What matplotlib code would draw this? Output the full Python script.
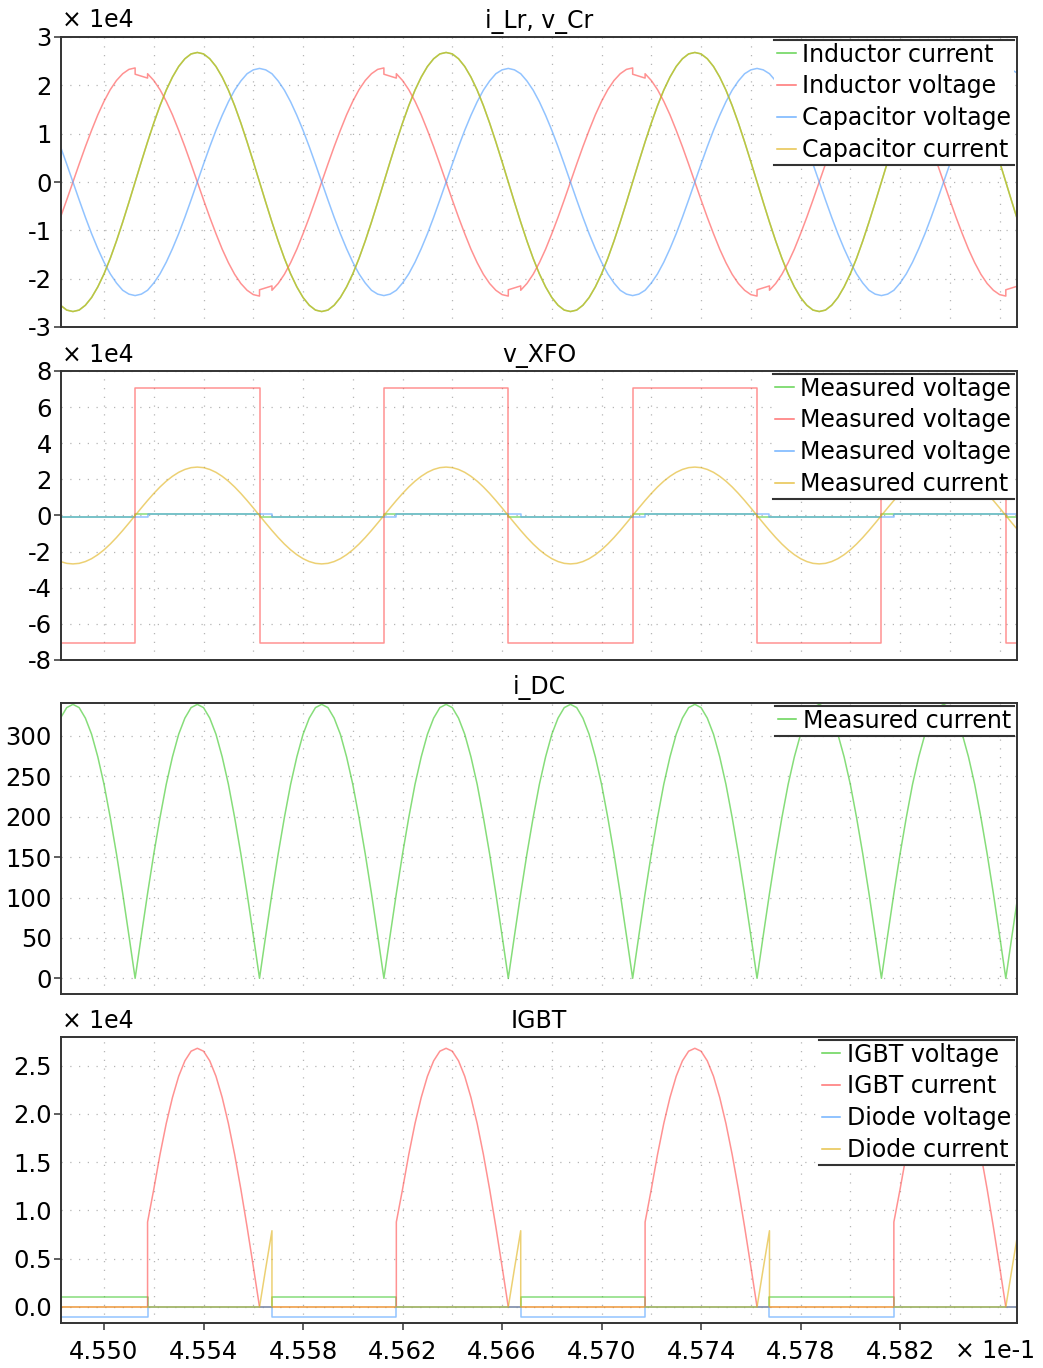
import numpy as np
import matplotlib
matplotlib.use("Agg")
import matplotlib.pyplot as plt
from matplotlib.lines import Line2D
from matplotlib.ticker import FixedLocator

plt.rcParams['font.family'] = ['DejaVu Sans']

# ---------------- data (time axis in units of 1e-1 s) ----------------
T_START = 4.54825
T_STEP = 0.00025
N = 156
t = np.round(T_START + T_STEP * np.arange(N), 6)

# panel 1 : i_Lr, v_Cr  (x 1e4)
ind_current = [
    -2.55, -2.65, -2.68, -2.65, -2.55, -2.39, -2.17, -1.90, -1.58, -1.22, -0.83, -0.42,
    0.00, 0.42, 0.83, 1.22, 1.58, 1.90, 2.17, 2.39, 2.55, 2.65, 2.68, 2.65, 2.55, 2.39, 2.17, 1.90, 1.58, 1.22, 0.83, 0.42,
    0.00, -0.42, -0.83, -1.22, -1.58, -1.90, -2.17, -2.39, -2.55, -2.65, -2.68, -2.65, -2.55, -2.39, -2.17, -1.90, -1.58, -1.22, -0.83, -0.42,
    0.00, 0.42, 0.83, 1.22, 1.58, 1.90, 2.17, 2.39, 2.55, 2.65, 2.68, 2.65, 2.55, 2.39, 2.17, 1.90, 1.58, 1.22, 0.83, 0.42,
    0.00, -0.42, -0.83, -1.22, -1.58, -1.90, -2.17, -2.39, -2.55, -2.65, -2.68, -2.65, -2.55, -2.39, -2.17, -1.90, -1.58, -1.22, -0.83, -0.42,
    0.00, 0.42, 0.83, 1.22, 1.58, 1.90, 2.17, 2.39, 2.55, 2.65, 2.68, 2.65, 2.55, 2.39, 2.17, 1.90, 1.58, 1.22, 0.83, 0.42,
    0.00, -0.42, -0.83, -1.22, -1.58, -1.90, -2.17, -2.39, -2.55, -2.65, -2.68, -2.65, -2.55, -2.39, -2.17, -1.90, -1.58, -1.22, -0.83, -0.42,
    0.00, 0.42, 0.83, 1.22, 1.58, 1.90, 2.17, 2.39, 2.55, 2.65, 2.68, 2.65, 2.55, 2.39, 2.17, 1.90, 1.58, 1.22, 0.83, 0.42,
    0.00, -0.42, -0.83, -1.22,
]
cap_current = ind_current  # identical trace (series resonant branch)

ind_voltage = [
    -0.73, -0.37, 0.00, 0.37, 0.73, 1.07, 1.39, 1.67, 1.91, 2.10, 2.24, 2.33,
    2.23, 2.19, 2.24, 2.10, 1.91, 1.67, 1.39, 1.07, 0.73, 0.37, 0.00, -0.37, -0.73, -1.07, -1.39, -1.67, -1.91, -2.10, -2.24, -2.33,
    -2.23, -2.19, -2.24, -2.10, -1.91, -1.67, -1.39, -1.07, -0.73, -0.37, 0.00, 0.37, 0.73, 1.07, 1.39, 1.67, 1.91, 2.10, 2.24, 2.33,
    2.23, 2.19, 2.24, 2.10, 1.91, 1.67, 1.39, 1.07, 0.73, 0.37, 0.00, -0.37, -0.73, -1.07, -1.39, -1.67, -1.91, -2.10, -2.24, -2.33,
    -2.23, -2.19, -2.24, -2.10, -1.91, -1.67, -1.39, -1.07, -0.73, -0.37, 0.00, 0.37, 0.73, 1.07, 1.39, 1.67, 1.91, 2.10, 2.24, 2.33,
    2.23, 2.19, 2.24, 2.10, 1.91, 1.67, 1.39, 1.07, 0.73, 0.37, 0.00, -0.37, -0.73, -1.07, -1.39, -1.67, -1.91, -2.10, -2.24, -2.33,
    -2.23, -2.19, -2.24, -2.10, -1.91, -1.67, -1.39, -1.07, -0.73, -0.37, 0.00, 0.37, 0.73, 1.07, 1.39, 1.67, 1.91, 2.10, 2.24, 2.33,
    2.23, 2.19, 2.24, 2.10, 1.91, 1.67, 1.39, 1.07, 0.73, 0.37, 0.00, -0.37, -0.73, -1.07, -1.39, -1.67, -1.91, -2.10, -2.24, -2.33,
    -2.23, -2.19, -2.24, -2.10,
]
# notch jumps of the inductor voltage: sample index and value just before the jump
ind_voltage_jump_idx = [12, 14, 32, 34, 52, 54, 72, 74, 92, 94, 112, 114, 132, 134, 152, 154]
ind_voltage_jump_before = [2.36, 2.15, -2.36, -2.15, 2.36, 2.15, -2.36, -2.15,
                           2.36, 2.15, -2.36, -2.15, 2.36, 2.15, -2.36, -2.15]

cap_voltage = [
    0.73, 0.37, 0.00, -0.37, -0.73, -1.07, -1.38, -1.66, -1.90, -2.09, -2.24, -2.32,
    -2.35, -2.32, -2.24, -2.09, -1.90, -1.66, -1.38, -1.07, -0.73, -0.37, 0.00, 0.37, 0.73, 1.07, 1.38, 1.66, 1.90, 2.09, 2.24, 2.32,
    2.35, 2.32, 2.24, 2.09, 1.90, 1.66, 1.38, 1.07, 0.73, 0.37, 0.00, -0.37, -0.73, -1.07, -1.38, -1.66, -1.90, -2.09, -2.24, -2.32,
    -2.35, -2.32, -2.24, -2.09, -1.90, -1.66, -1.38, -1.07, -0.73, -0.37, 0.00, 0.37, 0.73, 1.07, 1.38, 1.66, 1.90, 2.09, 2.24, 2.32,
    2.35, 2.32, 2.24, 2.09, 1.90, 1.66, 1.38, 1.07, 0.73, 0.37, 0.00, -0.37, -0.73, -1.07, -1.38, -1.66, -1.90, -2.09, -2.24, -2.32,
    -2.35, -2.32, -2.24, -2.09, -1.90, -1.66, -1.38, -1.07, -0.73, -0.37, 0.00, 0.37, 0.73, 1.07, 1.38, 1.66, 1.90, 2.09, 2.24, 2.32,
    2.35, 2.32, 2.24, 2.09, 1.90, 1.66, 1.38, 1.07, 0.73, 0.37, 0.00, -0.37, -0.73, -1.07, -1.38, -1.66, -1.90, -2.09, -2.24, -2.32,
    -2.35, -2.32, -2.24, -2.09, -1.90, -1.66, -1.38, -1.07, -0.73, -0.37, 0.00, 0.37, 0.73, 1.07, 1.38, 1.66, 1.90, 2.09, 2.24, 2.32,
    2.35, 2.32, 2.24, 2.09,
]

# panel 2 : v_XFO (x 1e4), step traces: switching instants and levels
xfo_edges = [4.54825, 4.55125, 4.55625, 4.56125, 4.56625, 4.57125, 4.57625, 4.58125, 4.58625, 4.58700]
xfo_edges_delayed = [4.54825, 4.55175, 4.55675, 4.56175, 4.56675, 4.57175, 4.57675, 4.58175, 4.58675, 4.58700]
xfo_voltage_a = [-0.10, 0.10, -0.10, 0.10, -0.10, 0.10, -0.10, 0.10, -0.10, -0.10]
xfo_voltage_b = [-7.05, 7.05, -7.05, 7.05, -7.05, 7.05, -7.05, 7.05, -7.05, -7.05]
xfo_voltage_c = [-0.10, 0.10, -0.10, 0.10, -0.10, 0.10, -0.10, 0.10, -0.10, -0.10]
xfo_current = ind_current

# panel 3 : i_DC
i_dc = [
    322, 335, 339, 335, 322, 302, 274, 240, 199, 154, 105, 53,
    0, 53, 105, 154, 199, 240, 274, 302, 322, 335, 339, 335, 322, 302, 274, 240, 199, 154, 105, 53,
    0, 53, 105, 154, 199, 240, 274, 302, 322, 335, 339, 335, 322, 302, 274, 240, 199, 154, 105, 53,
    0, 53, 105, 154, 199, 240, 274, 302, 322, 335, 339, 335, 322, 302, 274, 240, 199, 154, 105, 53,
    0, 53, 105, 154, 199, 240, 274, 302, 322, 335, 339, 335, 322, 302, 274, 240, 199, 154, 105, 53,
    0, 53, 105, 154, 199, 240, 274, 302, 322, 335, 339, 335, 322, 302, 274, 240, 199, 154, 105, 53,
    0, 53, 105, 154, 199, 240, 274, 302, 322, 335, 339, 335, 322, 302, 274, 240, 199, 154, 105, 53,
    0, 53, 105, 154, 199, 240, 274, 302, 322, 335, 339, 335, 322, 302, 274, 240, 199, 154, 105, 53,
    0, 53, 105, 154,
]

# panel 4 : IGBT (x 1e4)
igbt_voltage = [0.10, 0.00, 0.10, 0.00, 0.10, 0.00, 0.10, 0.00, 0.10, 0.10]
diode_voltage = [-0.10, 0.00, -0.10, 0.00, -0.10, 0.00, -0.10, 0.00, -0.10, -0.10]
igbt_current = [
    0, 0, 0, 0, 0, 0, 0, 0, 0, 0, 0, 0,
    0, 0, 0.88, 1.22, 1.58, 1.90, 2.17, 2.39, 2.55, 2.65, 2.68, 2.65, 2.55, 2.39, 2.17, 1.90, 1.58, 1.22, 0.83, 0.42,
    0, 0, 0, 0, 0, 0, 0, 0, 0, 0, 0, 0, 0, 0, 0, 0, 0, 0, 0, 0,
    0, 0, 0.88, 1.22, 1.58, 1.90, 2.17, 2.39, 2.55, 2.65, 2.68, 2.65, 2.55, 2.39, 2.17, 1.90, 1.58, 1.22, 0.83, 0.42,
    0, 0, 0, 0, 0, 0, 0, 0, 0, 0, 0, 0, 0, 0, 0, 0, 0, 0, 0, 0,
    0, 0, 0.88, 1.22, 1.58, 1.90, 2.17, 2.39, 2.55, 2.65, 2.68, 2.65, 2.55, 2.39, 2.17, 1.90, 1.58, 1.22, 0.83, 0.42,
    0, 0, 0, 0, 0, 0, 0, 0, 0, 0, 0, 0, 0, 0, 0, 0, 0, 0, 0, 0,
    0, 0, 0.88, 1.22, 1.58, 1.90, 2.17, 2.39, 2.55, 2.65, 2.68, 2.65, 2.55, 2.39, 2.17, 1.90, 1.58, 1.22, 0.83, 0.42,
    0, 0, 0, 0,
]
igbt_current_jump_idx = [14, 54, 94, 134]
igbt_current_jump_before = [0, 0, 0, 0]
diode_current = [
    0, 0, 0, 0, 0, 0, 0, 0, 0, 0, 0, 0,
    0, 0, 0, 0, 0, 0, 0, 0, 0, 0, 0, 0, 0, 0, 0, 0, 0, 0, 0, 0,
    0, 0.40, 0, 0, 0, 0, 0, 0, 0, 0, 0, 0, 0, 0, 0, 0, 0, 0, 0, 0,
    0, 0, 0, 0, 0, 0, 0, 0, 0, 0, 0, 0, 0, 0, 0, 0, 0, 0, 0, 0,
    0, 0.40, 0, 0, 0, 0, 0, 0, 0, 0, 0, 0, 0, 0, 0, 0, 0, 0, 0, 0,
    0, 0, 0, 0, 0, 0, 0, 0, 0, 0, 0, 0, 0, 0, 0, 0, 0, 0, 0, 0,
    0, 0.40, 0, 0, 0, 0, 0, 0, 0, 0, 0, 0, 0, 0, 0, 0, 0, 0, 0, 0,
    0, 0, 0, 0, 0, 0, 0, 0, 0, 0, 0, 0, 0, 0, 0, 0, 0, 0, 0, 0,
    0, 0.40, 0, 0,
]
diode_current_jump_idx = [34, 74, 114, 154]
diode_current_jump_before = [0.79, 0.79, 0.79, 0.79]

x_ticks = [4.550, 4.554, 4.558, 4.562, 4.566, 4.570, 4.574, 4.578, 4.582]
x_minor = [4.550, 4.552, 4.554, 4.556, 4.558, 4.560, 4.562, 4.564, 4.566,
           4.568, 4.570, 4.572, 4.574, 4.576, 4.578, 4.580, 4.582, 4.584, 4.586]


def with_jumps(tt, vv, idx, before):
    jumps = dict(zip(idx, before))
    ts, vs = [], []
    for k, (tk, vk) in enumerate(zip(tt, vv)):
        if k in jumps:
            ts.append(tk)
            vs.append(jumps[k])
        ts.append(tk)
        vs.append(vk)
    return ts, vs


# ---------------- styling ----------------
GREEN = '#3cc828'
RED = '#ff4f4f'
BLUE = '#4f9fff'
YEL = '#e1b41e'
ALPHA = 0.62
LW = 1.1
FS = 17.5      # tick labels
FSL = 17       # legend / titles
DARK = '#333333'

W, H = 1043, 1368
fig = plt.figure(figsize=(W / 100, H / 100), dpi=100)


def add_axes(top_px, bottom_px):
    return fig.add_axes([61 / W, 1 - bottom_px / H, (1017 - 61) / W, (bottom_px - top_px) / H])


def setup(ax, ylim, yticks, fmt, marks, title, bottom=False):
    ax.set_xlim(4.54827, 4.58670)
    ax.set_ylim(*ylim)
    ax.set_yticks(yticks)
    ax.set_yticklabels([fmt(v) for v in yticks])
    ax.yaxis.remove_overlapping_locs = False
    ax.yaxis.set_minor_locator(FixedLocator(marks))
    ax.tick_params(axis='y', which='major', length=0, pad=6.5, labelsize=FS)
    ax.tick_params(axis='y', which='minor', length=5, width=1.1, color=DARK, direction='out')
    ax.set_xticks(x_ticks)
    ax.xaxis.remove_overlapping_locs = False
    ax.set_xticks(x_minor, minor=True)
    ax.tick_params(axis='x', which='minor', length=0)
    if bottom:
        ax.set_xticklabels([f"{v:.3f}" for v in x_ticks])
        ax.tick_params(axis='x', which='major', length=5, width=1.1, color=DARK,
                       direction='out', labelsize=FS, pad=7)
    else:
        ax.set_xticklabels([])
        ax.tick_params(axis='x', which='major', length=0)
    ax.grid(True, axis='x', which='minor', color='#b5b5b5', lw=0.9, ls=(0, (1, 6)))
    ax.grid(True, axis='y', which='major', color='#b5b5b5', lw=0.9, ls=(0, (1, 6)))
    for s in ax.spines.values():
        s.set_color(DARK)
        s.set_linewidth(1.4)
    ax.set_title(title, fontsize=FSL, pad=6.5)


def legend(ax, colors, labels):
    hs = [Line2D([], [], color=c, lw=LW, alpha=0.8) for c in colors]
    leg = ax.legend(hs, labels, loc='upper right', bbox_to_anchor=(1, 1),
                    borderaxespad=0.12, fontsize=FSL, handlelength=0.78,
                    handletextpad=0.28, labelspacing=0.33, borderpad=0.12,
                    frameon=True, fancybox=False, framealpha=1.0,
                    facecolor='white', edgecolor='none')
    leg.set_zorder(10)
    return leg


legends = []

# panel 1
ax1 = add_axes(37, 327)
ax1.plot(t, ind_current, color=GREEN, lw=LW, alpha=ALPHA)
tv, vv = with_jumps(t, ind_voltage, ind_voltage_jump_idx, ind_voltage_jump_before)
ax1.plot(tv, vv, color=RED, lw=LW, alpha=ALPHA)
ax1.plot(t, cap_voltage, color=BLUE, lw=LW, alpha=ALPHA)
ax1.plot(t, cap_current, color=YEL, lw=LW, alpha=ALPHA)
setup(ax1, (-3, 3), [-3, -2, -1, 0, 1, 2, 3], lambda v: f"{v:d}", [-3, 0, 3], "i_Lr, v_Cr")
legends.append(legend(ax1, [GREEN, RED, BLUE, YEL],
                      ["Inductor current", "Inductor voltage", "Capacitor voltage", "Capacitor current"]))

# panel 2
ax2 = add_axes(371, 660)
ax2.plot(xfo_edges, xfo_voltage_a, drawstyle='steps-post', color=GREEN, lw=LW, alpha=ALPHA)
ax2.plot(xfo_edges, xfo_voltage_b, drawstyle='steps-post', color=RED, lw=LW, alpha=ALPHA)
ax2.plot(xfo_edges_delayed, xfo_voltage_c, drawstyle='steps-post', color=BLUE, lw=LW, alpha=ALPHA)
ax2.plot(t, xfo_current, color=YEL, lw=LW, alpha=ALPHA)
setup(ax2, (-8, 8), [-8, -6, -4, -2, 0, 2, 4, 6, 8], lambda v: f"{v:d}", [-8, 0, 8], "v_XFO")
legends.append(legend(ax2, [GREEN, RED, BLUE, YEL],
                      ["Measured voltage", "Measured voltage", "Measured voltage", "Measured current"]))

# panel 3
ax3 = add_axes(703, 994)
ax3.plot(t, i_dc, color=GREEN, lw=LW, alpha=ALPHA)
setup(ax3, (-19.4, 340.7), [0, 50, 100, 150, 200, 250, 300], lambda v: f"{v:d}", [0, 150], "i_DC")
legends.append(legend(ax3, [GREEN], ["Measured current"]))

# panel 4
ax4 = add_axes(1037, 1323)
ax4.plot(xfo_edges_delayed, igbt_voltage, drawstyle='steps-post', color=GREEN, lw=LW, alpha=ALPHA)
ti, vi = with_jumps(t, igbt_current, igbt_current_jump_idx, igbt_current_jump_before)
ax4.plot(ti, vi, color=RED, lw=LW, alpha=ALPHA)
ax4.plot(xfo_edges_delayed, diode_voltage, drawstyle='steps-post', color=BLUE, lw=LW, alpha=ALPHA)
td, vd = with_jumps(t, diode_current, diode_current_jump_idx, diode_current_jump_before)
ax4.plot(td, vd, color=YEL, lw=LW, alpha=ALPHA)
setup(ax4, (-0.166, 2.797), [0.0, 0.5, 1.0, 1.5, 2.0, 2.5], lambda v: f"{v:.1f}", [0.5, 2.0], "IGBT",
      bottom=True)
legends.append(legend(ax4, [GREEN, RED, BLUE, YEL],
                      ["IGBT voltage", "IGBT current", "Diode voltage", "Diode current"]))

# scale annotations
for ypx in (20, 355, 1021):
    fig.text(62 / W, 1 - ypx / H, "\u00d7 1e4", fontsize=FSL, ha='left', va='center')
fig.text(955 / W, 1 - 1351 / H, "\u00d7 1e-1", fontsize=FSL, ha='left', va='center')

# legend top / bottom rules
fig.canvas.draw()
inv = fig.transFigure.inverted()
for leg in legends:
    bb = leg.get_window_extent().transformed(inv)
    for yy in (bb.y0, bb.y1):
        fig.add_artist(Line2D([bb.x0, bb.x1], [yy, yy], transform=fig.transFigure,
                              color=DARK, lw=1.5, zorder=20))

fig.savefig("out.png", dpi=100)
